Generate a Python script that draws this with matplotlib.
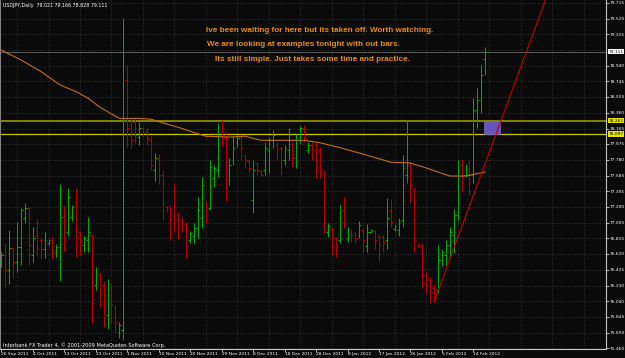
import matplotlib
matplotlib.use('Agg')
import matplotlib.pyplot as plt
import numpy as np
from matplotlib.patches import Rectangle

# USDJPY daily bars
highs = [76.64, 76.76, 76.92, 76.69, 77.01, 77.19, 77.25, 77.20, 76.95, 77.05,
         76.82, 76.89, 76.80, 76.83, 76.74, 77.48, 77.21, 77.43, 77.22, 77.43,
         76.90, 76.84, 77.08, 76.87, 76.46, 76.40, 76.29, 76.31, 76.26, 75.99,
         75.78, 79.53, 78.95, 78.29, 78.29, 78.25, 78.18, 78.17, 78.07, 77.86,
         77.85, 77.66, 77.21, 77.22, 77.49, 77.14, 77.06, 77.01, 76.90, 77.00,
         77.32, 77.57, 77.27, 77.78, 77.72, 78.23, 78.27, 78.12, 77.80, 78.06,
         78.09, 78.07, 77.84, 77.78, 77.78, 77.75, 77.66, 78.00, 78.06, 78.15,
         78.00, 77.95, 77.96, 78.17, 78.00, 78.10, 78.20, 78.21, 78.00, 78.00,
         78.00, 77.94, 77.66, 77.00, 76.95, 76.83, 77.22, 77.32, 76.95, 76.93,
         76.89, 77.03, 76.94, 76.99, 76.93, 76.92, 76.85, 76.85, 77.31, 77.30,
         76.98, 77.06, 77.84, 78.27, 77.75, 77.45, 76.74, 76.76, 76.40, 76.34,
         76.25, 76.73, 76.68, 76.79, 76.95, 77.17, 77.78, 77.79, 77.73, 77.78,
         78.54, 78.66, 78.95, 79.166]
lows = [76.46, 76.21, 76.25, 76.32, 76.40, 76.48, 77.00, 76.48, 76.52, 76.59,
        76.56, 76.57, 76.72, 76.56, 76.58, 76.29, 76.64, 76.84, 77.03, 76.58,
        76.61, 76.64, 76.64, 75.77, 76.18, 75.97, 75.72, 75.70, 75.77, 75.65,
        75.59, 75.56, 77.94, 77.93, 77.99, 77.96, 78.06, 77.96, 77.66, 77.52,
        77.48, 77.04, 77.14, 76.79, 76.89, 76.80, 76.89, 76.57, 76.76, 76.76,
        76.82, 76.94, 77.00, 77.16, 77.45, 77.57, 77.94, 77.27, 77.47, 77.72,
        77.94, 77.78, 77.68, 77.62, 77.12, 77.59, 77.58, 77.59, 77.62, 77.93,
        77.78, 77.59, 77.72, 77.78, 77.69, 77.68, 77.99, 78.00, 77.86, 77.78,
        77.56, 77.56, 76.88, 76.83, 76.61, 76.58, 76.76, 76.94, 76.77, 76.77,
        76.76, 76.82, 76.64, 76.64, 76.88, 76.68, 76.53, 76.64, 76.68, 76.95,
        76.90, 76.84, 76.95, 77.49, 77.26, 76.64, 76.71, 76.20, 76.14, 76.02,
        76.03, 76.14, 76.47, 76.48, 76.57, 76.63, 77.04, 77.38, 77.57, 77.35,
        77.49, 78.17, 78.36, 78.828]
opens = [76.52, 76.61, 76.42, 76.69, 76.52, 76.71, 77.06, 77.19, 76.61, 76.84,
         76.79, 76.68, 76.76, 76.78, 76.64, 76.71, 77.08, 76.89, 77.08, 77.21,
         76.89, 76.73, 76.79, 76.85, 76.24, 76.36, 76.24, 75.87, 76.18, 75.97,
         75.66, 75.68, 78.76, 78.21, 78.25, 78.06, 78.17, 78.13, 78.02, 77.66,
         77.80, 77.59, 77.20, 77.19, 77.41, 77.11, 77.05, 76.99, 76.79, 76.84,
         76.94, 77.06, 77.25, 77.19, 77.56, 77.66, 78.09, 78.05, 77.53, 77.78,
         77.99, 78.05, 77.84, 77.77, 77.29, 77.74, 77.64, 77.66, 77.90, 78.02,
         77.96, 77.93, 77.78, 77.90, 77.96, 77.80, 78.05, 78.17, 77.90, 77.96,
         77.96, 77.90, 77.63, 76.89, 76.93, 76.82, 76.79, 77.16, 76.82, 76.92,
         76.88, 76.85, 76.92, 76.72, 76.89, 76.90, 76.84, 76.83, 76.79, 77.16,
         76.93, 76.92, 77.04, 77.59, 77.72, 77.41, 76.74, 76.73, 76.36, 76.30,
         76.20, 76.18, 76.55, 76.61, 76.73, 76.85, 77.10, 77.72, 77.59, 77.74,
         77.59, 78.39, 78.52, 79.021]
closes = [76.61, 76.42, 76.69, 76.52, 76.71, 77.16, 77.19, 76.73, 76.82, 76.69,
          76.68, 76.79, 76.79, 76.67, 76.71, 77.08, 76.79, 77.32, 77.20, 76.82,
          76.79, 76.82, 76.89, 76.02, 76.40, 76.09, 75.93, 76.12, 75.99, 75.78,
          75.75, 78.27, 78.17, 78.02, 78.09, 78.17, 78.11, 78.05, 77.72, 77.80,
          77.59, 77.22, 77.16, 77.06, 77.10, 77.04, 76.98, 76.92, 76.88, 76.94,
          77.16, 77.47, 77.16, 77.69, 77.68, 78.09, 78.05, 77.47, 77.72, 77.93,
          78.05, 77.93, 77.78, 77.68, 77.66, 77.66, 77.59, 77.93, 78.02, 78.09,
          77.90, 77.78, 77.93, 78.09, 77.80, 78.02, 78.17, 78.05, 77.96, 77.90,
          77.66, 77.66, 77.00, 76.97, 76.72, 76.71, 77.14, 77.04, 76.92, 76.85,
          76.82, 76.98, 76.79, 76.89, 76.92, 76.79, 76.73, 76.77, 77.06, 77.01,
          76.97, 77.01, 77.68, 77.72, 77.47, 76.79, 76.72, 76.36, 76.24, 76.15,
          76.08, 76.55, 76.64, 76.73, 76.89, 77.10, 77.66, 77.56, 77.70, 77.59,
          78.39, 78.52, 78.83, 79.111]

# moving average (orange line), sampled at bar positions
ma_bar = [0, 5, 10, 15, 19, 22, 25, 30, 35, 38, 40, 45, 50, 52, 58, 62, 66,
          77, 81, 86, 92, 99, 104, 108, 114, 118, 121, 123]
ma_val = [79.13, 79.01, 78.87, 78.70, 78.62, 78.54, 78.43, 78.29, 78.29, 78.28,
          78.25, 78.18, 78.10, 78.07, 78.06, 78.07, 78.02, 78.02, 77.99, 77.93,
          77.85, 77.75, 77.74, 77.68, 77.58, 77.58, 77.61, 77.63]

# red trend line (two anchor points)
trend_bar = [110, 126.6]
trend_val = [76.03, 78.21]

level_hi = 78.262
level_lo = 78.097
bid = 79.111

ytick_vals = [79.715, 79.520, 79.325, 78.940, 78.745, 78.555, 78.360, 78.165,
              77.975, 77.780, 77.585, 77.395, 77.200, 77.005, 76.815, 76.620,
              76.425, 76.230, 76.040, 75.845, 75.650, 75.460]
date_labels = ['26 Sep 2011', '4 Oct 2011', '13 Oct 2011', '23 Oct 2011', '1 Nov 2011',
               '10 Nov 2011', '20 Nov 2011', '29 Nov 2011', '8 Dec 2011', '18 Dec 2011',
               '28 Dec 2011', '8 Jan 2012', '17 Jan 2012', '26 Jan 2012', '5 Feb 2012',
               '14 Feb 2012']

notes = ['Ive been waiting for here but its taken off. Worth watching.',
         'We are looking at examples tonight with out bars.',
         'Its still simple. Just takes some time and practice.']

bg = '#0a0a0a'
green = '#00a800'
red = '#b40000'

fig = plt.figure(figsize=(6.25, 3.58), dpi=100, facecolor=bg)
ax = fig.add_axes([0, 9.5 / 358, 606 / 625, 348.5 / 358])
ax.set_facecolor(bg)

xmin, xmax = -0.33, 153.7
ax.set_xlim(xmin, xmax)
ax.set_ylim(75.456, 79.748)

# dotted grid
grid_y = ytick_vals + [79.130]
ax.hlines(grid_y, xmin, xmax, colors='#3a3a3a', linestyles=(0, (1, 2)), lw=0.6, zorder=0)
ax.vlines(np.arange(4, 154, 8), 75.456, 79.748, colors='#3a3a3a',
          linestyles=(0, (1, 2)), lw=0.6, zorder=0)

# horizontal levels and bid line
ax.axhline(bid, color='#5c5c5c', lw=0.7, zorder=1)
ax.axhline(level_hi, color='#8c8c00', lw=1.3, zorder=1)
ax.axhline(level_lo, color='#c8c800', lw=0.9, zorder=1)

ax.add_patch(Rectangle((122.7, level_lo), 4.0, level_hi - level_lo,
                       fc='#6655c0', ec='#7a6ad0', lw=0.5, zorder=2))

# bars
x = np.arange(len(highs))
o = np.array(opens)
c = np.array(closes)
cols = np.where(c >= o, green, red)
ax.vlines(x, lows, highs, colors=cols, lw=0.75, zorder=3)
ax.hlines(o, x - 0.45, x, colors=cols, lw=0.75, zorder=3)
ax.hlines(c, x, x + 0.45, colors=cols, lw=0.75, zorder=3)

ax.plot(ma_bar, ma_val, color='#c0701a', lw=0.8, zorder=4)

slope = (trend_val[1] - trend_val[0]) / (trend_bar[1] - trend_bar[0])
ax.plot([trend_bar[0], xmax], [trend_val[0], trend_val[0] + slope * (xmax - trend_bar[0])],
        color='#c80000', lw=0.8, zorder=4)

# axes frame
ax.spines['top'].set_visible(False)
ax.spines['left'].set_color('#808080')
ax.spines['right'].set_color('#c8c8c8')
ax.spines['bottom'].set_color('#c8c8c8')

ax.yaxis.tick_right()
ax.set_yticks(ytick_vals)
ax.set_yticklabels(['%.3f' % v for v in ytick_vals])
ax.tick_params(axis='y', colors='#c8c8c8', labelcolor='white', labelsize=3.2,
               length=2, width=0.6, pad=0.8)
ax.set_xticks(np.arange(0, 121, 8))
ax.set_xticklabels(date_labels, ha='left')
ax.tick_params(axis='x', colors='#c8c8c8', labelcolor='white', labelsize=3.2,
               length=2, width=0.6, pad=0.8)

# price tags on the axis
tr = ax.get_yaxis_transform()
for val, fc in [(bid, 'white'), (level_hi, '#e6e600'), (level_lo, '#e6e600')]:
    ax.text(1.004, val, '%.3f' % val, transform=tr, fontsize=3.2, color='black',
            va='center', bbox=dict(boxstyle='square,pad=0.15', fc=fc, ec='none'),
            clip_on=False)

fig.text(3 / 625, 1 - 5 / 358, 'USDJPY,Daily  79.021 79.166 78.828 79.111',
         fontsize=3.4, color='white', va='center')
fig.text(3 / 625, 1 - 345 / 358, 'Interbank FX Trader 4, \u00a9 2001-2009 MetaQuotes Software Corp.',
         fontsize=3.6, color='white', va='center')

for i, (tx, ty) in enumerate(zip([206, 207, 215], [30, 44.5, 59.5])):
    fig.text(tx / 625, 1 - ty / 358, notes[i], fontsize=5.9, fontweight='bold',
             color='#e88a10', va='center', family='Liberation Sans')

fig.savefig('out.png', dpi=100, facecolor=bg)
